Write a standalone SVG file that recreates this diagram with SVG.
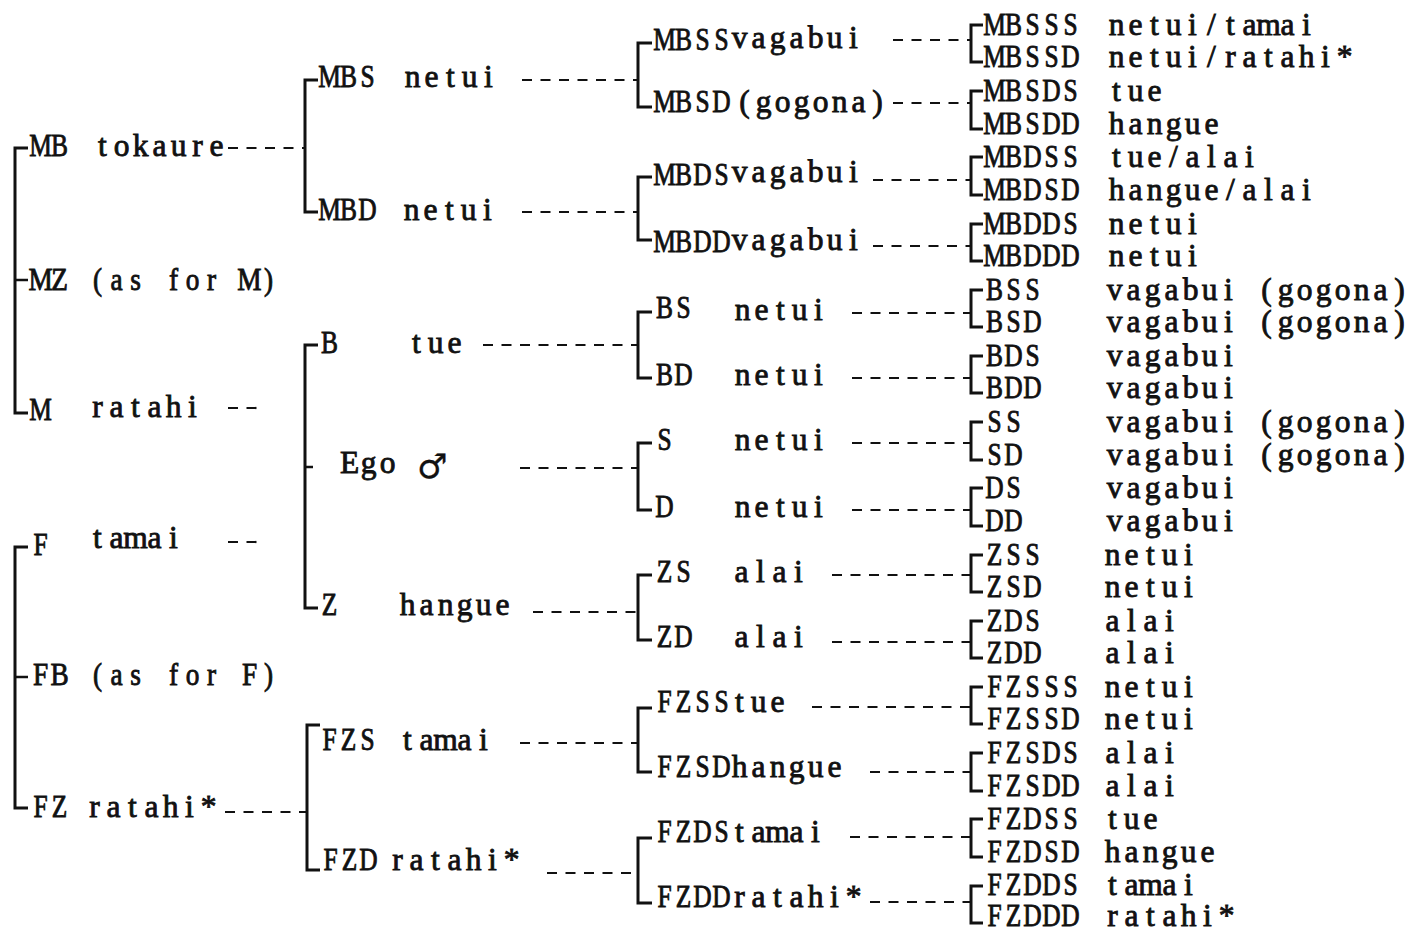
<svg xmlns="http://www.w3.org/2000/svg" width="1416" height="933" viewBox="0 0 1416 933">
<style>
text{font-family:"Liberation Serif","DejaVu Serif",serif;font-size:31px;text-anchor:middle;fill:#111;stroke:#111;stroke-width:0.85}
.l{font-size:31.5px}
.sym{font-family:"DejaVu Sans",sans-serif;font-size:34px;text-anchor:start;stroke-width:0.3}
.br{fill:none;stroke:#111;stroke-width:3;stroke-linejoin:miter}
.tk{fill:none;stroke:#111;stroke-width:2.5}
.ds{fill:none;stroke:#111;stroke-width:2.2;stroke-dasharray:10 8.5}
</style>
<rect width="1416" height="933" fill="#fff"/>
<g id="connectors">
<path class="br" d="M28,148 H15 V413 H28"/>
<path class="tk" d="M15,280 H28"/>
<path class="br" d="M28,547 H15 V808 H28"/>
<path class="tk" d="M15,677 H28"/>
<path class="ds" d="M228,148 H305"/>
<path class="ds" d="M228,408 H264"/>
<path class="ds" d="M228,542 H264"/>
<path class="ds" d="M225,812 H307"/>
<path class="br" d="M318,80 H305 V212 H318"/>
<path class="br" d="M318,345 H305 V608 H318"/>
<path class="tk" d="M305,467 H313"/>
<path class="br" d="M320,725 H307 V870 H320"/>
<path class="ds" d="M522,80 H638"/>
<path class="ds" d="M522,212 H638"/>
<path class="ds" d="M483,345 H638"/>
<path class="ds" d="M520,468 H638"/>
<path class="ds" d="M533,612 H638"/>
<path class="ds" d="M520,743 H638"/>
<path class="ds" d="M547,873 H638"/>
<path class="br" d="M652,43 H638 V107 H652"/>
<path class="br" d="M652,177 H638 V240 H652"/>
<path class="br" d="M652,312 H638 V378 H652"/>
<path class="br" d="M652,443 H638 V510 H652"/>
<path class="br" d="M652,575 H638 V640 H652"/>
<path class="br" d="M652,708 H638 V772 H652"/>
<path class="br" d="M652,838 H638 V903 H652"/>
<path class="ds" d="M893,40 H971"/>
<path class="ds" d="M893,103 H971"/>
<path class="ds" d="M873,180 H971"/>
<path class="ds" d="M873,246 H971"/>
<path class="ds" d="M852,313 H971"/>
<path class="ds" d="M852,378 H971"/>
<path class="ds" d="M852,443 H971"/>
<path class="ds" d="M852,510 H971"/>
<path class="ds" d="M832,575 H971"/>
<path class="ds" d="M832,642 H971"/>
<path class="ds" d="M812,707 H971"/>
<path class="ds" d="M870,772 H971"/>
<path class="ds" d="M850,837 H971"/>
<path class="ds" d="M870,902 H971"/>
<path class="br" d="M983,25 H971 V62 H983"/>
<path class="br" d="M983,91 H971 V129 H983"/>
<path class="br" d="M983,157 H971 V195 H983"/>
<path class="br" d="M983,224 H971 V261 H983"/>
<path class="br" d="M983,290 H971 V327 H983"/>
<path class="br" d="M983,356 H971 V393 H983"/>
<path class="br" d="M983,422 H971 V460 H983"/>
<path class="br" d="M983,488 H971 V526 H983"/>
<path class="br" d="M983,555 H971 V592 H983"/>
<path class="br" d="M983,621 H971 V658 H983"/>
<path class="br" d="M983,687 H971 V724 H983"/>
<path class="br" d="M983,753 H971 V791 H983"/>
<path class="br" d="M983,819 H971 V857 H983"/>
<path class="br" d="M983,886 H971 V923 H983"/>
</g>
<g id="col1">
<g id="n-MB"><text transform="translate(31 156) scale(.82 1)" x="11.59 34.76 57.93 81.1 104.27 127.44">MB</text><text class="l" transform="translate(93 156)" x="9.5 28.5 47.5 66.5 85.5 104.5 123.5 142.5 161.5 180.5 199.5 218.5 237.5 256.5 275.5 294.5">tokaure</text></g>
<g id="n-MZ"><text transform="translate(31 290) scale(.88 1)" x="10.8 32.39 53.98 75.57 97.16 118.75 140.34 161.93 183.52 205.11 226.7 248.3 269.89">MZ (as for M)</text></g>
<g id="n-M"><text transform="translate(31 420) scale(.82 1)" x="11.59 34.76 57.93 81.1 104.27 127.44">M</text><text class="l" transform="translate(88 417)" x="9.5 28.5 47.5 66.5 85.5 104.5 123.5 142.5 161.5 180.5 199.5 218.5 237.5 256.5 275.5 294.5">ratahi</text></g>
<g id="n-F"><text transform="translate(31 555) scale(.82 1)" x="11.59 34.76 57.93 81.1 104.27 127.44">F</text><text class="l" transform="translate(88 548)" x="9.5 28.5 47.5 66.5 85.5 104.5 123.5 142.5 161.5 180.5 199.5 218.5 237.5 256.5 275.5 294.5">tamai</text></g>
<g id="n-FB"><text transform="translate(31 685) scale(.88 1)" x="10.8 32.39 53.98 75.57 97.16 118.75 140.34 161.93 183.52 205.11 226.7 248.3 269.89">FB (as for F)</text></g>
<g id="n-FZ"><text transform="translate(31 817) scale(.82 1)" x="11.59 34.76 57.93 81.1 104.27 127.44">FZ</text><text class="l" transform="translate(85 817)" x="9.5 28.5 47.5 66.5 85.5 104.5 123.5 142.5 161.5 180.5 199.5 218.5 237.5 256.5 275.5 294.5">ratahi*</text></g>
</g>
<g id="col2">
<g id="n-MBS"><text transform="translate(320 87) scale(.82 1)" x="11.59 34.76 57.93 81.1 104.27 127.44">MBS</text><text class="l" transform="translate(403 87)" x="9.5 28.5 47.5 66.5 85.5 104.5 123.5 142.5 161.5 180.5 199.5 218.5 237.5 256.5 275.5 294.5">netui</text></g>
<g id="n-MBD"><text transform="translate(320 220) scale(.82 1)" x="11.59 34.76 57.93 81.1 104.27 127.44">MBD</text><text class="l" transform="translate(402 220)" x="9.5 28.5 47.5 66.5 85.5 104.5 123.5 142.5 161.5 180.5 199.5 218.5 237.5 256.5 275.5 294.5">netui</text></g>
<g id="n-B"><text transform="translate(320 353) scale(.82 1)" x="11.59 34.76 57.93 81.1 104.27 127.44">B</text><text class="l" transform="translate(407 353)" x="9.5 28.5 47.5 66.5 85.5 104.5 123.5 142.5 161.5 180.5 199.5 218.5 237.5 256.5 275.5 294.5">tue</text></g>
<g id="n-Ego"><text class="l" transform="translate(340 473)" x="9.5 28.5 47.5 66.5 85.5 104.5 123.5 142.5 161.5 180.5 199.5 218.5 237.5 256.5 275.5 294.5">Ego</text><text class="sym" x="417" y="478">♂</text></g>
<g id="n-Z"><text transform="translate(320 615) scale(.82 1)" x="11.59 34.76 57.93 81.1 104.27 127.44">Z</text><text class="l" transform="translate(398 615)" x="9.5 28.5 47.5 66.5 85.5 104.5 123.5 142.5 161.5 180.5 199.5 218.5 237.5 256.5 275.5 294.5">hangue</text></g>
<g id="n-FZS"><text transform="translate(320 750) scale(.82 1)" x="11.59 34.76 57.93 81.1 104.27 127.44">FZS</text><text class="l" transform="translate(398 750)" x="9.5 28.5 47.5 66.5 85.5 104.5 123.5 142.5 161.5 180.5 199.5 218.5 237.5 256.5 275.5 294.5">tamai</text></g>
<g id="n-FZD"><text transform="translate(321 870) scale(.82 1)" x="11.59 34.76 57.93 81.1 104.27 127.44">FZD</text><text class="l" transform="translate(388 870)" x="9.5 28.5 47.5 66.5 85.5 104.5 123.5 142.5 161.5 180.5 199.5 218.5 237.5 256.5 275.5 294.5">ratahi*</text></g>
</g>
<g id="col3">
<g id="n-MBSS"><text transform="translate(655 50) scale(.82 1)" x="11.59 34.76 57.93 81.1 104.27 127.44">MBSS</text><text class="l" transform="translate(730 48)" x="9.5 28.5 47.5 66.5 85.5 104.5 123.5 142.5 161.5 180.5 199.5 218.5 237.5 256.5 275.5 294.5">vagabui</text></g>
<g id="n-MBSD"><text transform="translate(655 112) scale(.82 1)" x="11.59 34.76 57.93 81.1 104.27 127.44">MBSD</text><text class="l" transform="translate(735 112)" x="9.5 28.5 47.5 66.5 85.5 104.5 123.5 142.5 161.5 180.5 199.5 218.5 237.5 256.5 275.5 294.5">(gogona)</text></g>
<g id="n-MBDS"><text transform="translate(655 185) scale(.82 1)" x="11.59 34.76 57.93 81.1 104.27 127.44">MBDS</text><text class="l" transform="translate(730 182)" x="9.5 28.5 47.5 66.5 85.5 104.5 123.5 142.5 161.5 180.5 199.5 218.5 237.5 256.5 275.5 294.5">vagabui</text></g>
<g id="n-MBDD"><text transform="translate(655 252) scale(.82 1)" x="11.59 34.76 57.93 81.1 104.27 127.44">MBDD</text><text class="l" transform="translate(730 250)" x="9.5 28.5 47.5 66.5 85.5 104.5 123.5 142.5 161.5 180.5 199.5 218.5 237.5 256.5 275.5 294.5">vagabui</text></g>
<g id="n-BS"><text transform="translate(655 318) scale(.82 1)" x="11.59 34.76 57.93 81.1 104.27 127.44">BS</text><text class="l" transform="translate(733 320)" x="9.5 28.5 47.5 66.5 85.5 104.5 123.5 142.5 161.5 180.5 199.5 218.5 237.5 256.5 275.5 294.5">netui</text></g>
<g id="n-BD"><text transform="translate(655 385) scale(.82 1)" x="11.59 34.76 57.93 81.1 104.27 127.44">BD</text><text class="l" transform="translate(733 385)" x="9.5 28.5 47.5 66.5 85.5 104.5 123.5 142.5 161.5 180.5 199.5 218.5 237.5 256.5 275.5 294.5">netui</text></g>
<g id="n-S"><text transform="translate(655 450) scale(.82 1)" x="11.59 34.76 57.93 81.1 104.27 127.44">S</text><text class="l" transform="translate(733 450)" x="9.5 28.5 47.5 66.5 85.5 104.5 123.5 142.5 161.5 180.5 199.5 218.5 237.5 256.5 275.5 294.5">netui</text></g>
<g id="n-D"><text transform="translate(655 517) scale(.82 1)" x="11.59 34.76 57.93 81.1 104.27 127.44">D</text><text class="l" transform="translate(733 517)" x="9.5 28.5 47.5 66.5 85.5 104.5 123.5 142.5 161.5 180.5 199.5 218.5 237.5 256.5 275.5 294.5">netui</text></g>
<g id="n-ZS"><text transform="translate(655 582) scale(.82 1)" x="11.59 34.76 57.93 81.1 104.27 127.44">ZS</text><text class="l" transform="translate(732 582)" x="9.5 28.5 47.5 66.5 85.5 104.5 123.5 142.5 161.5 180.5 199.5 218.5 237.5 256.5 275.5 294.5">alai</text></g>
<g id="n-ZD"><text transform="translate(655 647) scale(.82 1)" x="11.59 34.76 57.93 81.1 104.27 127.44">ZD</text><text class="l" transform="translate(732 647)" x="9.5 28.5 47.5 66.5 85.5 104.5 123.5 142.5 161.5 180.5 199.5 218.5 237.5 256.5 275.5 294.5">alai</text></g>
<g id="n-FZSS"><text transform="translate(655 712) scale(.82 1)" x="11.59 34.76 57.93 81.1 104.27 127.44">FZSS</text><text class="l" transform="translate(730 712)" x="9.5 28.5 47.5 66.5 85.5 104.5 123.5 142.5 161.5 180.5 199.5 218.5 237.5 256.5 275.5 294.5">tue</text></g>
<g id="n-FZSD"><text transform="translate(655 777) scale(.82 1)" x="11.59 34.76 57.93 81.1 104.27 127.44">FZSD</text><text class="l" transform="translate(730 777)" x="9.5 28.5 47.5 66.5 85.5 104.5 123.5 142.5 161.5 180.5 199.5 218.5 237.5 256.5 275.5 294.5">hangue</text></g>
<g id="n-FZDS"><text transform="translate(655 842) scale(.82 1)" x="11.59 34.76 57.93 81.1 104.27 127.44">FZDS</text><text class="l" transform="translate(730 842)" x="9.5 28.5 47.5 66.5 85.5 104.5 123.5 142.5 161.5 180.5 199.5 218.5 237.5 256.5 275.5 294.5">tamai</text></g>
<g id="n-FZDD"><text transform="translate(655 907) scale(.82 1)" x="11.59 34.76 57.93 81.1 104.27 127.44">FZDD</text><text class="l" transform="translate(730 907)" x="9.5 28.5 47.5 66.5 85.5 104.5 123.5 142.5 161.5 180.5 199.5 218.5 237.5 256.5 275.5 294.5">ratahi*</text></g>
</g>
<g id="col4">
<g id="n-MBSSS"><text transform="translate(985 35) scale(.82 1)" x="11.59 34.76 57.93 81.1 104.27 127.44">MBSSS</text><text class="l" transform="translate(1107 35)" x="9.5 28.5 47.5 66.5 85.5 104.5 123.5 142.5 161.5 180.5 199.5 218.5 237.5 256.5 275.5 294.5">netui/tamai</text></g>
<g id="n-MBSSD"><text transform="translate(985 67) scale(.82 1)" x="11.59 34.76 57.93 81.1 104.27 127.44">MBSSD</text><text class="l" transform="translate(1107 67)" x="9.5 28.5 47.5 66.5 85.5 104.5 123.5 142.5 161.5 180.5 199.5 218.5 237.5 256.5 275.5 294.5">netui/ratahi*</text></g>
<g id="n-MBSDS"><text transform="translate(985 101) scale(.82 1)" x="11.59 34.76 57.93 81.1 104.27 127.44">MBSDS</text><text class="l" transform="translate(1107 101)" x="9.5 28.5 47.5 66.5 85.5 104.5 123.5 142.5 161.5 180.5 199.5 218.5 237.5 256.5 275.5 294.5">tue</text></g>
<g id="n-MBSDD"><text transform="translate(985 134) scale(.82 1)" x="11.59 34.76 57.93 81.1 104.27 127.44">MBSDD</text><text class="l" transform="translate(1107 134)" x="9.5 28.5 47.5 66.5 85.5 104.5 123.5 142.5 161.5 180.5 199.5 218.5 237.5 256.5 275.5 294.5">hangue</text></g>
<g id="n-MBDSS"><text transform="translate(985 167) scale(.82 1)" x="11.59 34.76 57.93 81.1 104.27 127.44">MBDSS</text><text class="l" transform="translate(1107 167)" x="9.5 28.5 47.5 66.5 85.5 104.5 123.5 142.5 161.5 180.5 199.5 218.5 237.5 256.5 275.5 294.5">tue/alai</text></g>
<g id="n-MBDSD"><text transform="translate(985 200) scale(.82 1)" x="11.59 34.76 57.93 81.1 104.27 127.44">MBDSD</text><text class="l" transform="translate(1107 200)" x="9.5 28.5 47.5 66.5 85.5 104.5 123.5 142.5 161.5 180.5 199.5 218.5 237.5 256.5 275.5 294.5">hangue/alai</text></g>
<g id="n-MBDDS"><text transform="translate(985 234) scale(.82 1)" x="11.59 34.76 57.93 81.1 104.27 127.44">MBDDS</text><text class="l" transform="translate(1107 234)" x="9.5 28.5 47.5 66.5 85.5 104.5 123.5 142.5 161.5 180.5 199.5 218.5 237.5 256.5 275.5 294.5">netui</text></g>
<g id="n-MBDDD"><text transform="translate(985 266) scale(.82 1)" x="11.59 34.76 57.93 81.1 104.27 127.44">MBDDD</text><text class="l" transform="translate(1107 266)" x="9.5 28.5 47.5 66.5 85.5 104.5 123.5 142.5 161.5 180.5 199.5 218.5 237.5 256.5 275.5 294.5">netui</text></g>
<g id="n-BSS"><text transform="translate(985 300) scale(.82 1)" x="11.59 34.76 57.93 81.1 104.27 127.44">BSS</text><text class="l" transform="translate(1105 300)" x="9.5 28.5 47.5 66.5 85.5 104.5 123.5 142.5 161.5 180.5 199.5 218.5 237.5 256.5 275.5 294.5">vagabui (gogona)</text></g>
<g id="n-BSD"><text transform="translate(985 332) scale(.82 1)" x="11.59 34.76 57.93 81.1 104.27 127.44">BSD</text><text class="l" transform="translate(1105 332)" x="9.5 28.5 47.5 66.5 85.5 104.5 123.5 142.5 161.5 180.5 199.5 218.5 237.5 256.5 275.5 294.5">vagabui (gogona)</text></g>
<g id="n-BDS"><text transform="translate(985 366) scale(.82 1)" x="11.59 34.76 57.93 81.1 104.27 127.44">BDS</text><text class="l" transform="translate(1105 366)" x="9.5 28.5 47.5 66.5 85.5 104.5 123.5 142.5 161.5 180.5 199.5 218.5 237.5 256.5 275.5 294.5">vagabui</text></g>
<g id="n-BDD"><text transform="translate(985 398) scale(.82 1)" x="11.59 34.76 57.93 81.1 104.27 127.44">BDD</text><text class="l" transform="translate(1105 398)" x="9.5 28.5 47.5 66.5 85.5 104.5 123.5 142.5 161.5 180.5 199.5 218.5 237.5 256.5 275.5 294.5">vagabui</text></g>
<g id="n-SS"><text transform="translate(985 432) scale(.82 1)" x="11.59 34.76 57.93 81.1 104.27 127.44">SS</text><text class="l" transform="translate(1105 432)" x="9.5 28.5 47.5 66.5 85.5 104.5 123.5 142.5 161.5 180.5 199.5 218.5 237.5 256.5 275.5 294.5">vagabui (gogona)</text></g>
<g id="n-SD"><text transform="translate(985 465) scale(.82 1)" x="11.59 34.76 57.93 81.1 104.27 127.44">SD</text><text class="l" transform="translate(1105 465)" x="9.5 28.5 47.5 66.5 85.5 104.5 123.5 142.5 161.5 180.5 199.5 218.5 237.5 256.5 275.5 294.5">vagabui (gogona)</text></g>
<g id="n-DS"><text transform="translate(985 498) scale(.82 1)" x="11.59 34.76 57.93 81.1 104.27 127.44">DS</text><text class="l" transform="translate(1105 498)" x="9.5 28.5 47.5 66.5 85.5 104.5 123.5 142.5 161.5 180.5 199.5 218.5 237.5 256.5 275.5 294.5">vagabui</text></g>
<g id="n-DD"><text transform="translate(985 531) scale(.82 1)" x="11.59 34.76 57.93 81.1 104.27 127.44">DD</text><text class="l" transform="translate(1105 531)" x="9.5 28.5 47.5 66.5 85.5 104.5 123.5 142.5 161.5 180.5 199.5 218.5 237.5 256.5 275.5 294.5">vagabui</text></g>
<g id="n-ZSS"><text transform="translate(985 565) scale(.82 1)" x="11.59 34.76 57.93 81.1 104.27 127.44">ZSS</text><text class="l" transform="translate(1103 565)" x="9.5 28.5 47.5 66.5 85.5 104.5 123.5 142.5 161.5 180.5 199.5 218.5 237.5 256.5 275.5 294.5">netui</text></g>
<g id="n-ZSD"><text transform="translate(985 597) scale(.82 1)" x="11.59 34.76 57.93 81.1 104.27 127.44">ZSD</text><text class="l" transform="translate(1103 597)" x="9.5 28.5 47.5 66.5 85.5 104.5 123.5 142.5 161.5 180.5 199.5 218.5 237.5 256.5 275.5 294.5">netui</text></g>
<g id="n-ZDS"><text transform="translate(985 631) scale(.82 1)" x="11.59 34.76 57.93 81.1 104.27 127.44">ZDS</text><text class="l" transform="translate(1103 631)" x="9.5 28.5 47.5 66.5 85.5 104.5 123.5 142.5 161.5 180.5 199.5 218.5 237.5 256.5 275.5 294.5">alai</text></g>
<g id="n-ZDD"><text transform="translate(985 663) scale(.82 1)" x="11.59 34.76 57.93 81.1 104.27 127.44">ZDD</text><text class="l" transform="translate(1103 663)" x="9.5 28.5 47.5 66.5 85.5 104.5 123.5 142.5 161.5 180.5 199.5 218.5 237.5 256.5 275.5 294.5">alai</text></g>
<g id="n-FZSSS"><text transform="translate(985 697) scale(.82 1)" x="11.59 34.76 57.93 81.1 104.27 127.44">FZSSS</text><text class="l" transform="translate(1103 697)" x="9.5 28.5 47.5 66.5 85.5 104.5 123.5 142.5 161.5 180.5 199.5 218.5 237.5 256.5 275.5 294.5">netui</text></g>
<g id="n-FZSSD"><text transform="translate(985 729) scale(.82 1)" x="11.59 34.76 57.93 81.1 104.27 127.44">FZSSD</text><text class="l" transform="translate(1103 729)" x="9.5 28.5 47.5 66.5 85.5 104.5 123.5 142.5 161.5 180.5 199.5 218.5 237.5 256.5 275.5 294.5">netui</text></g>
<g id="n-FZSDS"><text transform="translate(985 763) scale(.82 1)" x="11.59 34.76 57.93 81.1 104.27 127.44">FZSDS</text><text class="l" transform="translate(1103 763)" x="9.5 28.5 47.5 66.5 85.5 104.5 123.5 142.5 161.5 180.5 199.5 218.5 237.5 256.5 275.5 294.5">alai</text></g>
<g id="n-FZSDD"><text transform="translate(985 796) scale(.82 1)" x="11.59 34.76 57.93 81.1 104.27 127.44">FZSDD</text><text class="l" transform="translate(1103 796)" x="9.5 28.5 47.5 66.5 85.5 104.5 123.5 142.5 161.5 180.5 199.5 218.5 237.5 256.5 275.5 294.5">alai</text></g>
<g id="n-FZDSS"><text transform="translate(985 829) scale(.82 1)" x="11.59 34.76 57.93 81.1 104.27 127.44">FZDSS</text><text class="l" transform="translate(1103 829)" x="9.5 28.5 47.5 66.5 85.5 104.5 123.5 142.5 161.5 180.5 199.5 218.5 237.5 256.5 275.5 294.5">tue</text></g>
<g id="n-FZDSD"><text transform="translate(985 862) scale(.82 1)" x="11.59 34.76 57.93 81.1 104.27 127.44">FZDSD</text><text class="l" transform="translate(1103 862)" x="9.5 28.5 47.5 66.5 85.5 104.5 123.5 142.5 161.5 180.5 199.5 218.5 237.5 256.5 275.5 294.5">hangue</text></g>
<g id="n-FZDDS"><text transform="translate(985 895) scale(.82 1)" x="11.59 34.76 57.93 81.1 104.27 127.44">FZDDS</text><text class="l" transform="translate(1103 895)" x="9.5 28.5 47.5 66.5 85.5 104.5 123.5 142.5 161.5 180.5 199.5 218.5 237.5 256.5 275.5 294.5">tamai</text></g>
<g id="n-FZDDD"><text transform="translate(985 926) scale(.82 1)" x="11.59 34.76 57.93 81.1 104.27 127.44">FZDDD</text><text class="l" transform="translate(1103 926)" x="9.5 28.5 47.5 66.5 85.5 104.5 123.5 142.5 161.5 180.5 199.5 218.5 237.5 256.5 275.5 294.5">ratahi*</text></g>
</g>
</svg>
